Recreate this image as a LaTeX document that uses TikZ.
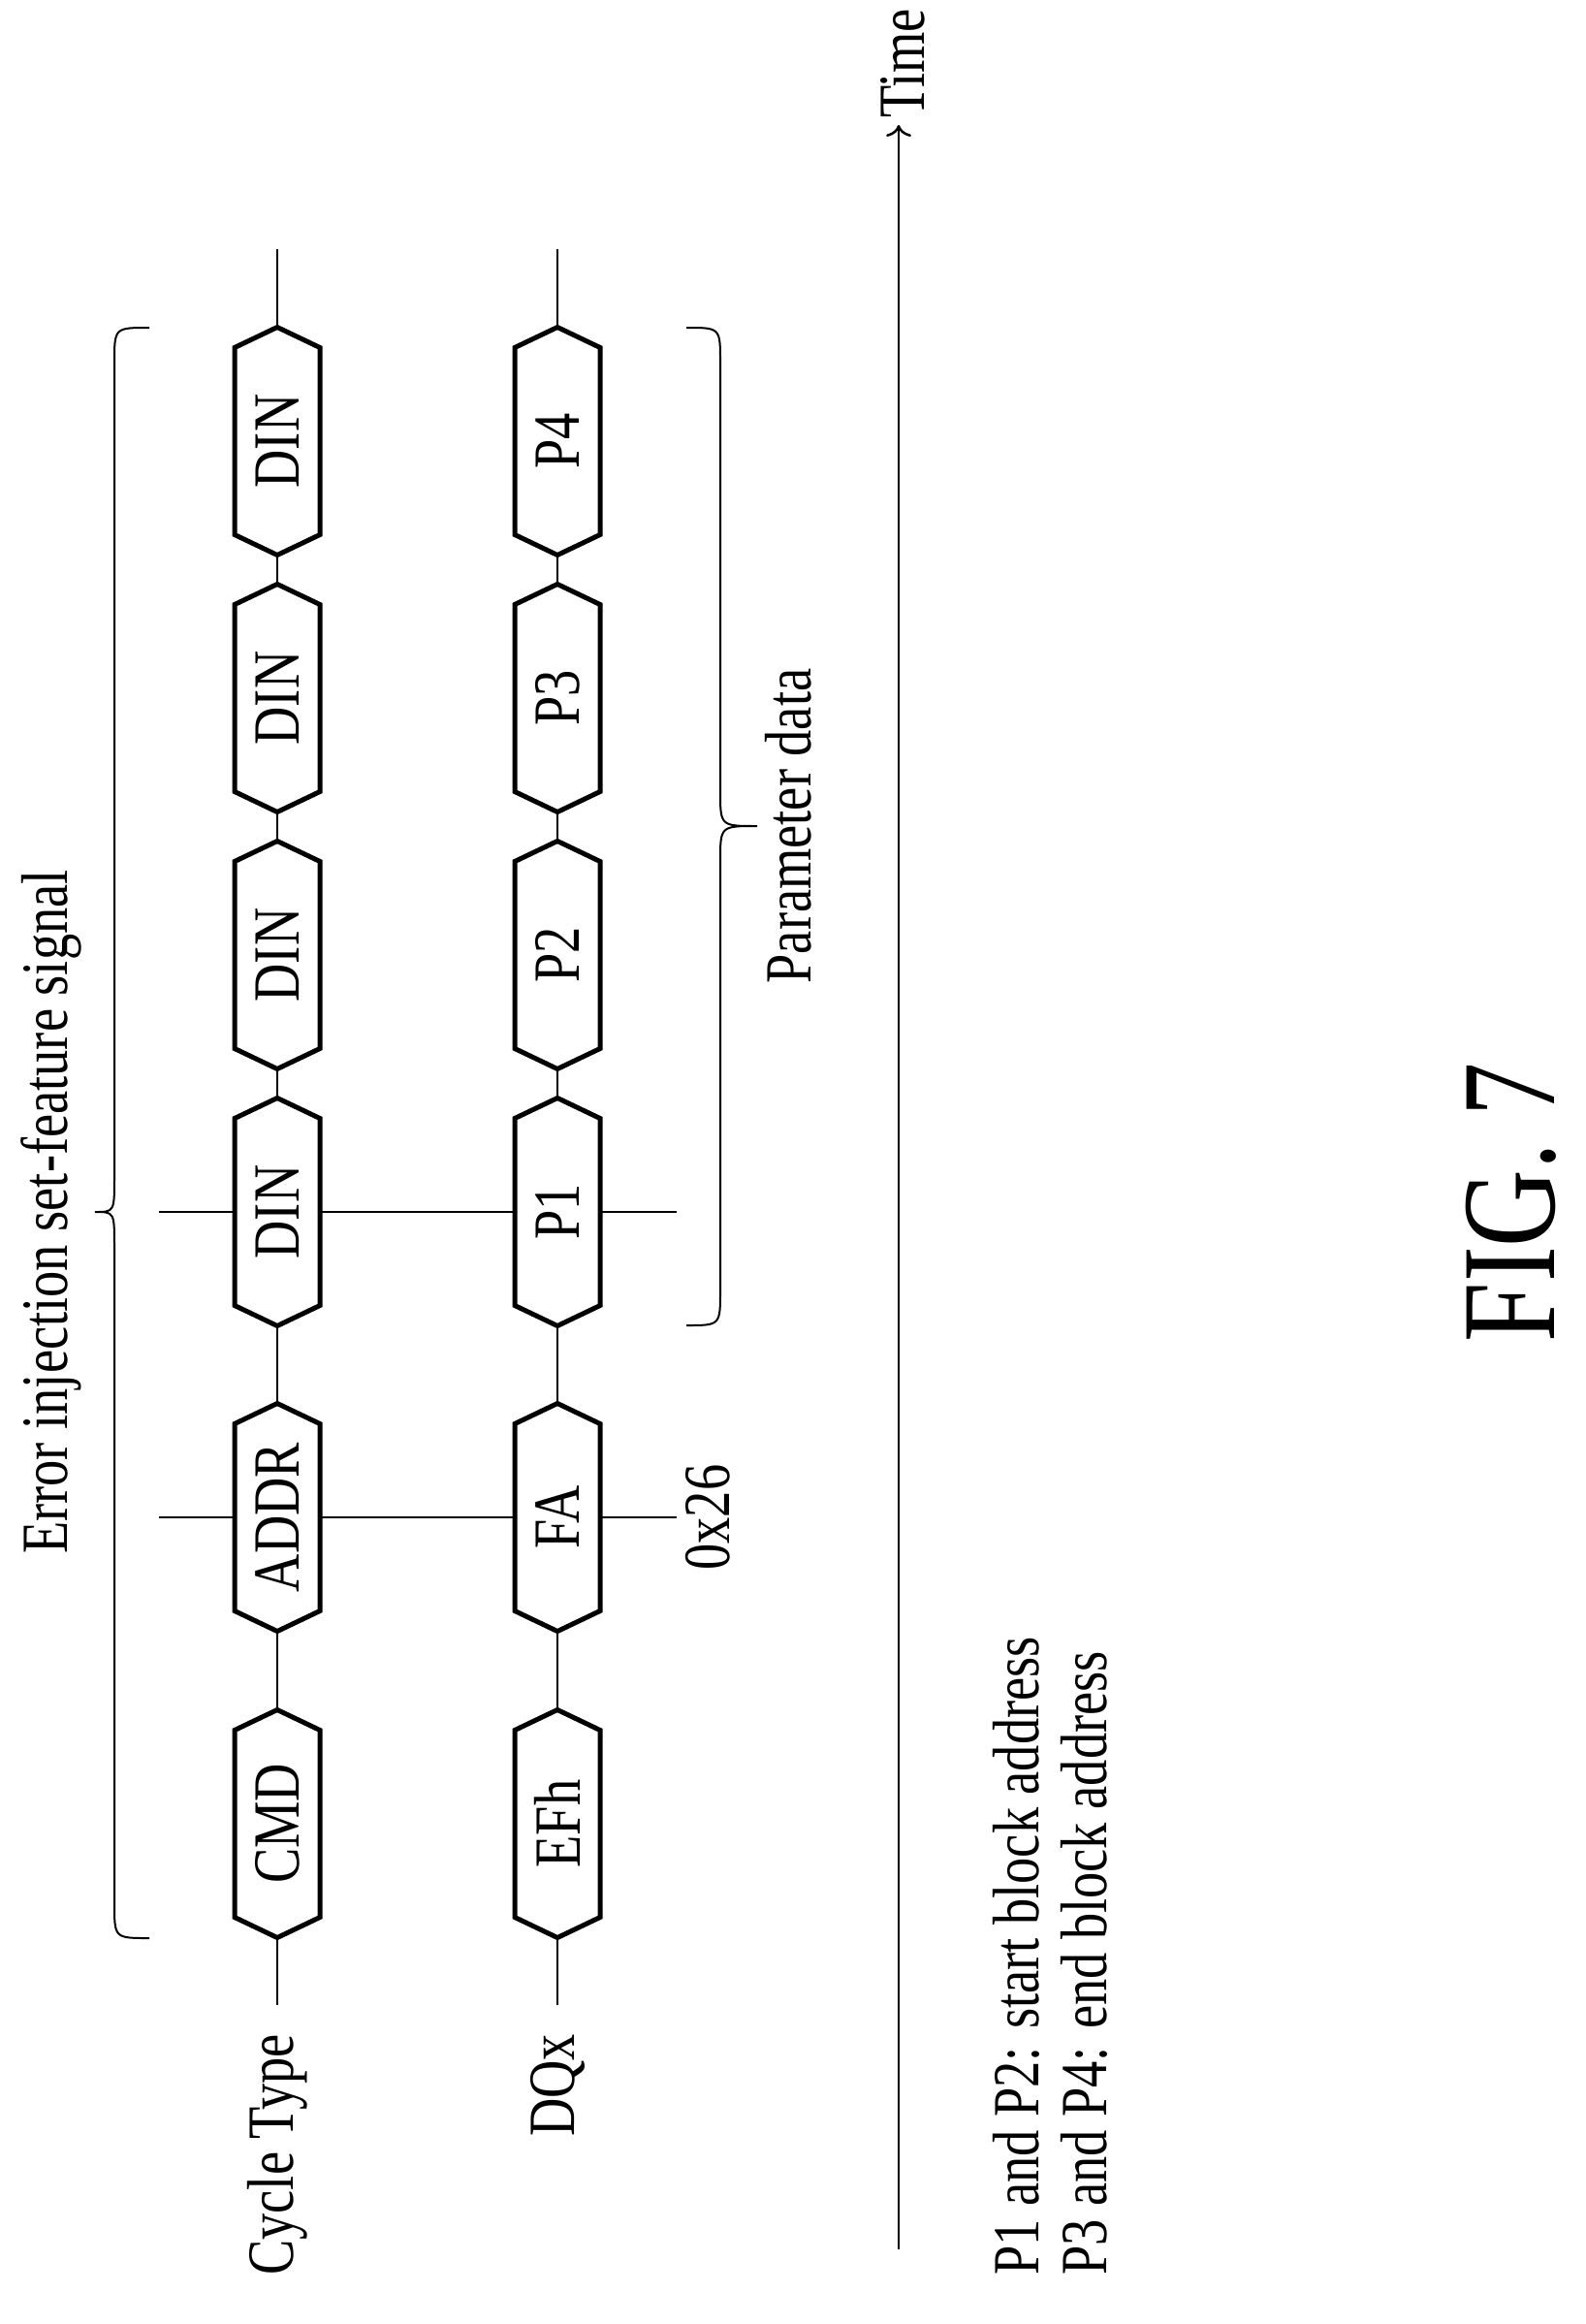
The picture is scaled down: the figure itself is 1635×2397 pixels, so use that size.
\documentclass[tikz,border=0pt]{standalone}
\usepackage{fontspec}
\setmainfont{Liberation Serif}[FakeStretch=0.8]
\usetikzlibrary{arrows.meta}

\tikzset{
	lbl/.style={font=\fontsize{68}{70}\selectfont, inner sep=0pt},
	hexnode/.style={lbl, rotate=90},
	hexline/.style={line width=5pt, fill=white, line join=miter},
	sigline/.style={line width=2pt},
	bracel/.style={line width=2pt},
}

\begin{document}
\begin{tikzpicture}[x=1pt,y=1pt]
	\useasboundingbox (0,0) rectangle (1635,-2397);
	
	% signal lines
	\coordinate (ctop) at (286,-257);
	\coordinate (cbot) at (286,-2068);
	\coordinate (dtop) at (575,-257);
	\coordinate (dbot) at (575,-2068);
	\draw[sigline] (ctop) -- (cbot);
	\draw[sigline] (dtop) -- (dbot);
	
	% markers
	\coordinate (m1l) at (164,-1565);
	\coordinate (m1r) at (698,-1565);
	\coordinate (m2l) at (164,-1250);
	\coordinate (m2r) at (698,-1250);
	\draw[sigline] (m1l) -- (m1r);
	\draw[sigline] (m2l) -- (m2r);
	
	% cycles
	\foreach \nm/\x/\y/\t in {cmd/286/-1881/CMD, addr/286/-1565/ADDR, dina/286/-1250/DIN, dinb/286/-985/DIN, dinc/286/-720/DIN, dind/286/-455/DIN,
		efh/575/-1881/EFh, fa/575/-1565/FA, pa/575/-1250/P1, pb/575/-985/P2, pc/575/-720/P3, pd/575/-455/P4}{
		\draw[hexline] (\x,\y) ++(0,117.5) -- ++(44,-21) -- ++(0,-193) -- ++(-44,-21) -- ++(-44,21) -- ++(0,193) -- cycle;
		\node[hexnode] (\nm) at (\x,\y) {\t};
	}
	
	% braces
	\draw[bracel] (154,-338) .. controls (118,-338) .. (118,-374) -- (118,-1214) .. controls (118,-1250) .. (98,-1250)
		.. controls (118,-1250) .. (118,-1286) -- (118,-1963) .. controls (118,-1999) .. (154,-1999);
	\draw[bracel] (708,-338) .. controls (743,-338) .. (743,-374) -- (743,-816) .. controls (743,-852) .. (781,-852)
		.. controls (743,-852) .. (743,-888) -- (743,-1331) .. controls (743,-1367) .. (708,-1367);
	
	% time axis
	\coordinate (t0) at (927,-2320);
	\coordinate (t1) at (927,-129);
	\draw[line width=2.5pt, -{To[length=12pt,width=26pt,line width=2.5pt]}] (t0) -- (t1);
	
	% texts
	\node[lbl,rotate=90] (errsig) at (53,-1250) {Error injection set-feature signal};
	\node[lbl,rotate=90] (pardata) at (813,-852) {Parameter data};
	\node[lbl,rotate=90] (faval) at (730,-1565) {0x26};
	\node[lbl,rotate=90,anchor=east] (cyc) at (286,-2098) {Cycle Type};
	\node[lbl,rotate=90,anchor=east] (dqx) at (575,-2098) {DQx};
	\node[lbl,rotate=90,anchor=west] (time) at (931,-122) {Time};
	\node[lbl,rotate=90,anchor=west,align=left] (legend) at (1083,-2347) {P1 and P2: start block address\\P3 and P4: end block address};
	\node[font=\fontsize{138}{140}\selectfont,inner sep=0pt,rotate=90] (fig) at (1559,-1240) {FIG. 7};
\end{tikzpicture}
\end{document}
